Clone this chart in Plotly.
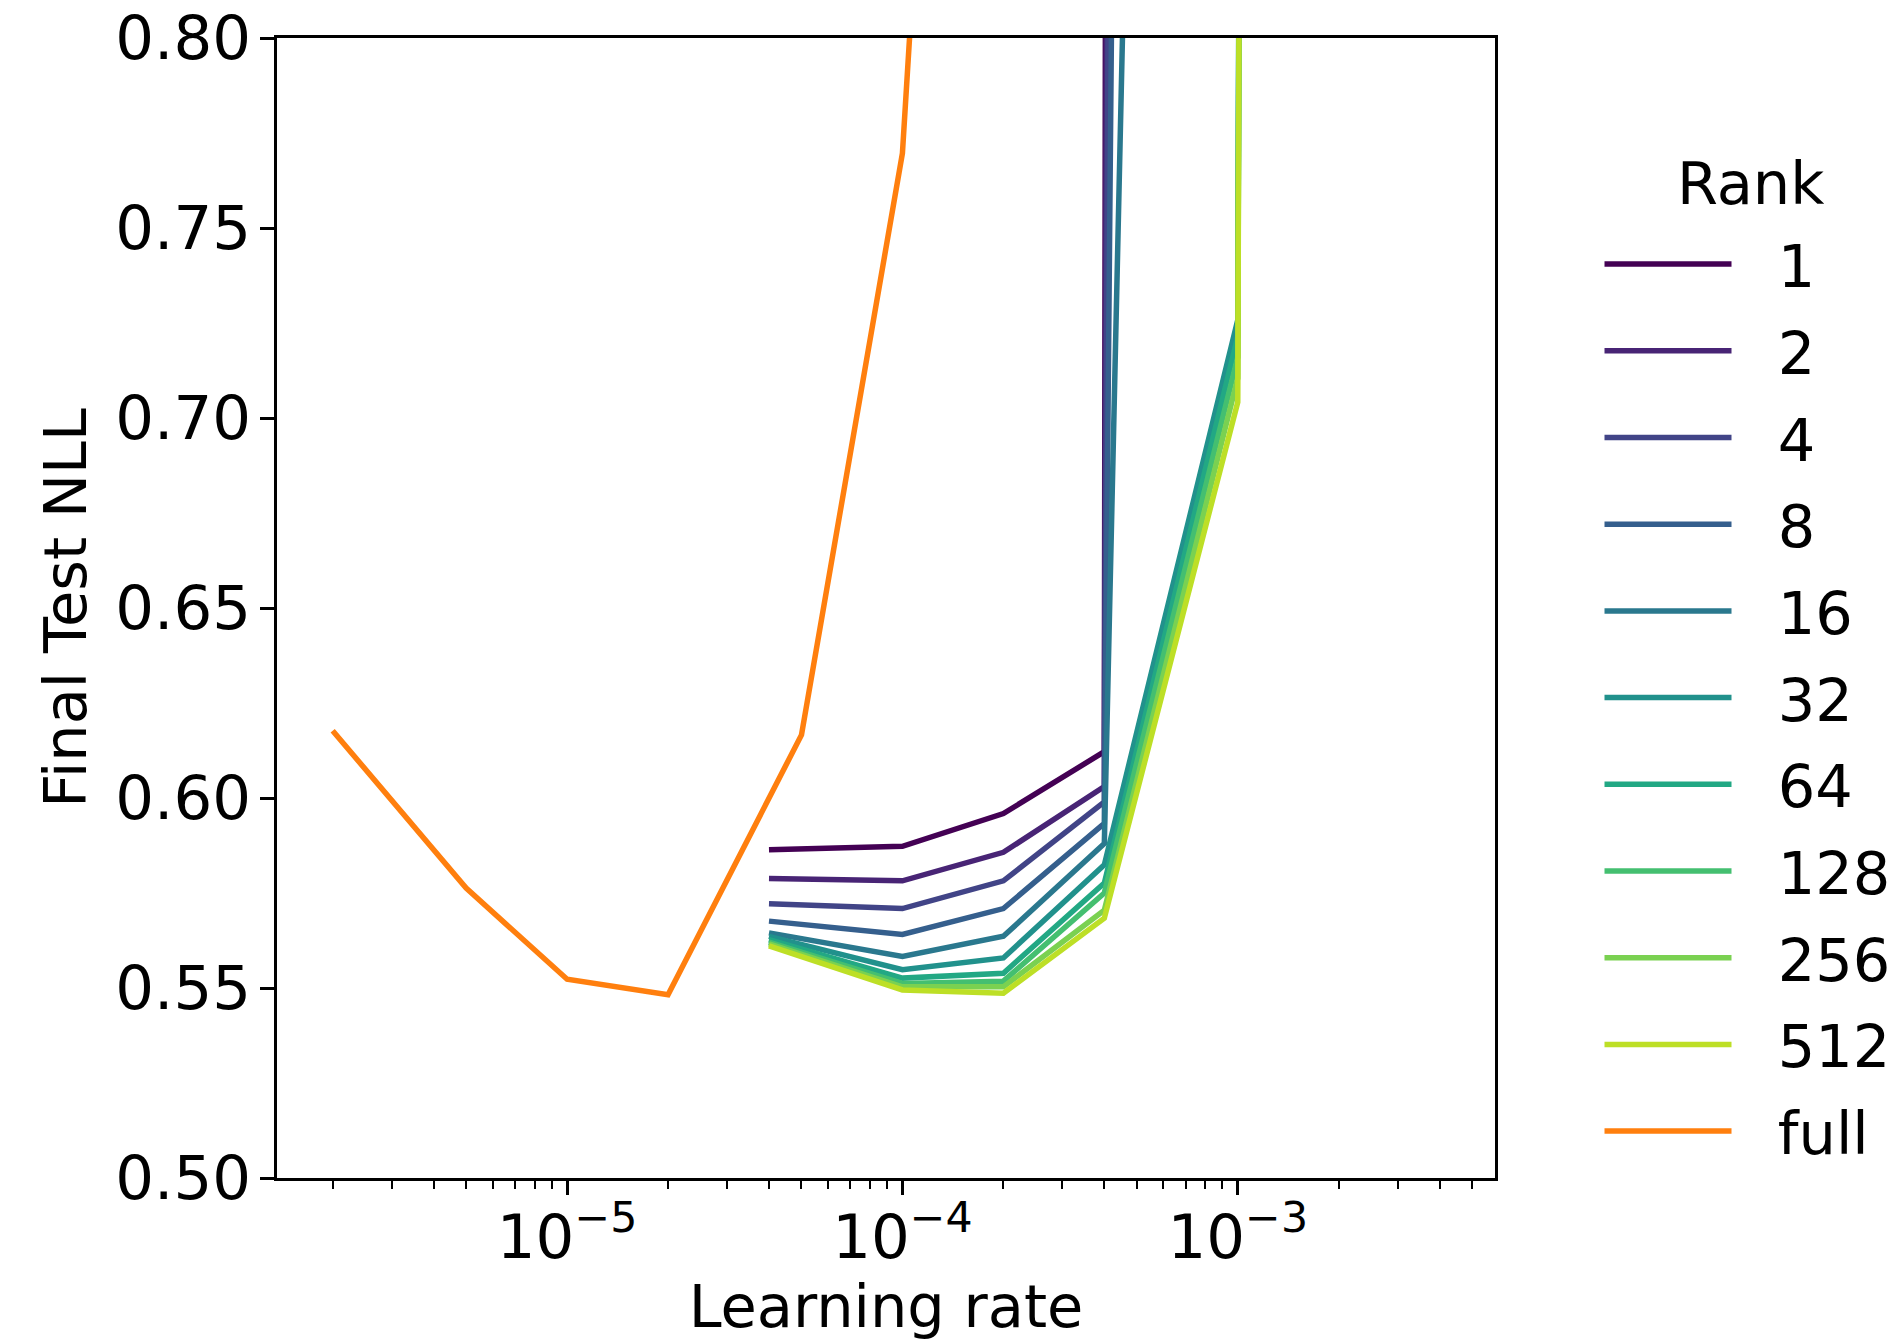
import plotly.graph_objects as go

# ---------------- data ----------------
lr_full = [2e-6, 5e-6, 1e-5, 2e-5, 5e-5, 1e-4, 2e-4]
nll_full = [0.6177, 0.5763, 0.5523, 0.5482, 0.6166, 0.7697, 1.20]

lr_rank = [4e-5, 1e-4, 2e-4, 4e-4, 1e-3, 2e-3]
rank_labels = ["1", "2", "4", "8", "16", "32", "64", "128", "256", "512"]

nll_rank_1 = [0.5864, 0.5873, 0.5959, 0.6122, 25.0, 30.0]
nll_rank_2 = [0.5788, 0.5782, 0.5857, 0.6030, 14.0, 20.0]
nll_rank_4 = [0.5722, 0.5709, 0.5782, 0.5990, 8.0, 15.0]
nll_rank_8 = [0.5676, 0.5641, 0.5709, 0.5933, 4.5, 10.0]
nll_rank_16 = [0.5645, 0.5583, 0.5636, 0.5880, 2.15, 8.0]
nll_rank_32 = [0.5636, 0.5548, 0.5579, 0.5824, 0.7258, 9.0]
nll_rank_64 = [0.5627, 0.5526, 0.5539, 0.5776, 0.7215, 9.0]
nll_rank_128 = [0.5621, 0.5512, 0.5518, 0.5750, 0.7160, 9.0]
nll_rank_256 = [0.5616, 0.5503, 0.5503, 0.5705, 0.7105, 9.0]
nll_rank_512 = [0.5611, 0.5495, 0.5486, 0.5684, 0.7042, 9.0]

nll_ranks = [nll_rank_1, nll_rank_2, nll_rank_4, nll_rank_8, nll_rank_16,
             nll_rank_32, nll_rank_64, nll_rank_128, nll_rank_256, nll_rank_512]

rank_colors = ["#440154", "#482475", "#414487", "#355f8d", "#2a788e",
               "#21918c", "#22a884", "#44bf70", "#7ad151", "#bddf26"]
full_color = "#ff7f0e"

x_tickvals = [1e-5, 1e-4, 1e-3]
x_ticktext = ["10<sup>\u22125</sup>", "10<sup>\u22124</sup>", "10<sup>\u22123</sup>"]
x_minor = [m * d for d in (1e-6, 1e-5, 1e-4, 1e-3) for m in range(2, 10) if m * d < 5.9e-3]
y_tickvals = [0.50, 0.55, 0.60, 0.65, 0.70, 0.75, 0.80]

FONT = "DejaVu Sans"
FS = 59
TFS = 61
LW = 5.5
PAD = "\u2002\u2009"

fig = go.Figure()
for lab, ys, col in zip(rank_labels, nll_ranks, rank_colors):
    fig.add_trace(go.Scatter(x=lr_rank, y=ys, mode="lines", name=PAD + lab,
                             legendgroup=lab, line=dict(color=col, width=LW)))
fig.add_trace(go.Scatter(x=lr_full, y=nll_full, mode="lines", name=PAD + "full",
                         legendgroup="full", line=dict(color=full_color, width=LW)))

axis_common = dict(showgrid=False, zeroline=False, showline=True, linecolor="black",
                   linewidth=2.5, mirror=True, ticks="outside", ticklen=14, tickwidth=2.5,
                   tickcolor="black", automargin=False, ticklabeloverflow="allow",
                   tickfont=dict(family=FONT, size=TFS, color="black"))

# the page body adds an 8px offset, so the figure is 8px smaller and margins shifted
fig.update_layout(
    width=1892, height=1333,
    margin=dict(l=269, r=405, t=30, b=163, autoexpand=False),
    paper_bgcolor="white", plot_bgcolor="white",
    font=dict(family=FONT, size=FS, color="black"),
    xaxis=dict(type="log", range=[-5.865, -2.233], tickvals=x_tickvals, ticktext=x_ticktext,
               minor=dict(tickvals=x_minor, ticks="outside", ticklen=8, tickwidth=2, tickcolor="black"),
               title=dict(text="Learning rate", font=dict(family=FONT, size=FS), standoff=13),
               ticklabelstandoff=-10,
               **axis_common),
    yaxis=dict(range=[0.50, 0.80], tickvals=y_tickvals, tickformat=".2f",
               title=dict(text="Final Test NLL", font=dict(family=FONT, size=FS), standoff=10),
               ticklabelstandoff=-3,
               **axis_common),
    legend=dict(x=1.0858, xanchor="left", y=0.841, yanchor="top",
                font=dict(family=FONT, size=FS, color="black"),
                itemwidth=127, traceorder="grouped", tracegroupgap=7,
                bgcolor="rgba(0,0,0,0)"),
    showlegend=True,
    annotations=[dict(text="Rank", xref="paper", yref="paper", x=1.2097, y=0.872,
                      xanchor="center", yanchor="middle", showarrow=False,
                      font=dict(family=FONT, size=FS, color="black"))],
)

fig.write_html("out.html")
